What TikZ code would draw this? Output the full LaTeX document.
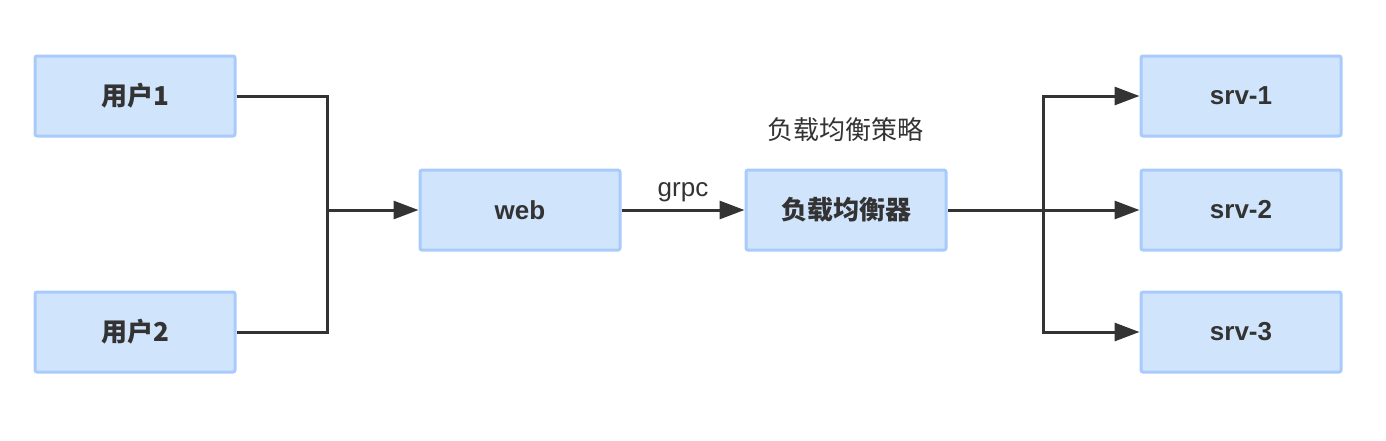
\documentclass[tikz,border=0pt]{standalone}
\usepackage{fontspec}
\setmainfont{Liberation Sans}
\newfontfamily\cjk{Noto Sans CJK SC}
\usetikzlibrary{arrows.meta}
\definecolor{boxfill}{HTML}{D0E4FC}
\definecolor{boxline}{HTML}{A8CBFC}
\definecolor{wire}{HTML}{333333}

\begin{document}
\begin{tikzpicture}[x=0.5pt, y=-0.5pt,
  box/.style={draw=boxline, fill=boxfill, line width=1.5pt, rounded corners=1pt, text=wire,
    minimum width=100pt, minimum height=40pt, font=\fontsize{13}{15}\selectfont\bfseries},
  wire/.style={draw=wire, line width=1.5pt},
  arr/.style={wire, -{Triangle[length=12.5pt, width=9pt]}}]
  \useasboundingbox (0,0) rectangle (1386,440);
  \node[box] (u1) at (135,96) {\cjk 用户1};
  \node[box] (u2) at (135,332) {\cjk 用户2};
  \node[box] (web) at (520,210) {web};
  \node[box] (lb) at (846,210) {\cjk 负载均衡器};
  \node[box] (s1) at (1241,96) {srv-1};
  \node[box] (s2) at (1241,210) {srv-2};
  \node[box] (s3) at (1241,332) {srv-3};
  \node[font=\fontsize{13}{15}\selectfont\cjk, text=wire] (policy) at (845,130) {负载均衡策略};
  \coordinate (j1) at (327,210);
  \coordinate (j2) at (1043,210);
  \path[wire]
  (u1.east) -| (j1)
  (u2.east) -| (j1);
  \draw[arr] (j1) -- (web.west);
  \draw[arr] (web.east) -- node[above, text=wire, font=\fontsize{13}{15}\selectfont] {grpc} (lb.west);
  \draw[arr] (lb.east) -- (s2.west);
  \draw[arr] (j2) |- (s1.west);
  \draw[arr] (j2) |- (s3.west);
\end{tikzpicture}
\end{document}
